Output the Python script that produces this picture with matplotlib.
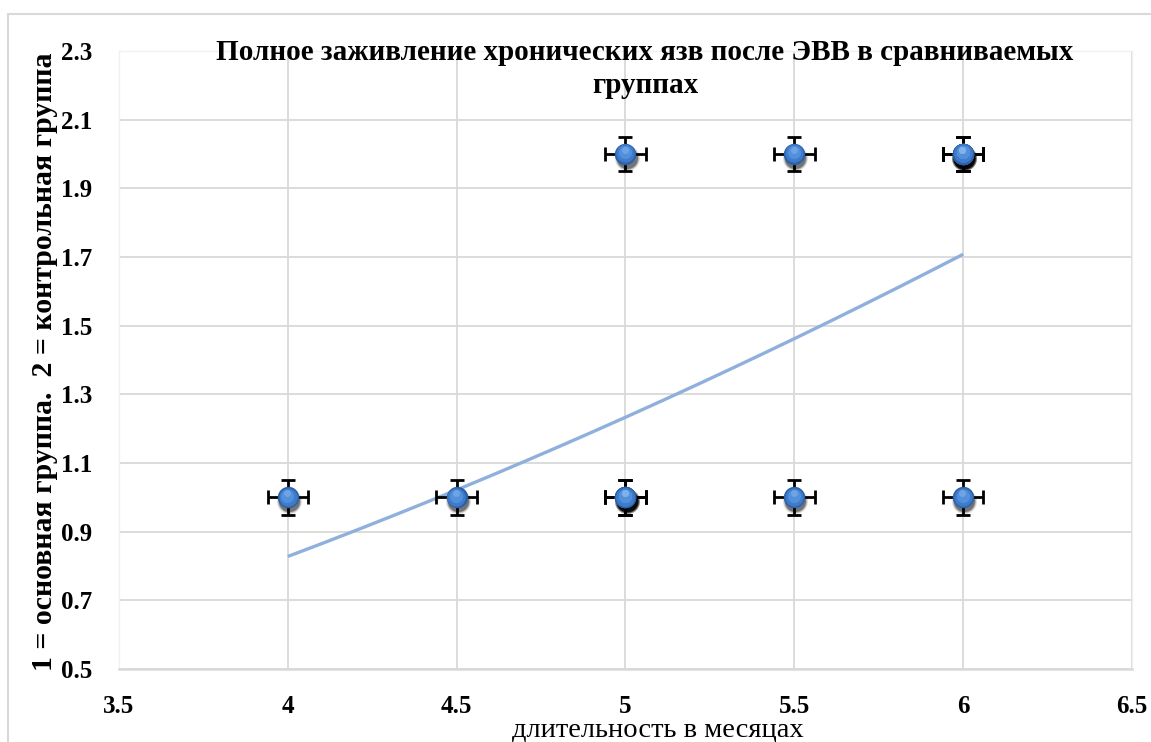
import matplotlib

matplotlib.use("Agg")
import matplotlib.pyplot as plt
import matplotlib.transforms as mtransforms
import numpy as np
from matplotlib.patches import Rectangle

# healing time per patient (months) and the group it belongs to
months = [4, 4.5, 5, 5, 5, 5, 5, 5.5, 5.5, 6, 6, 6, 6, 6, 6]
group = [1, 1, 1, 1, 1, 1, 2, 1, 2, 1, 2, 2, 2, 2, 2]
x_err = 0.06
y_err = 0.05

x_ticks = [3.5, 4, 4.5, 5, 5.5, 6, 6.5]
y_ticks = [0.5, 0.7, 0.9, 1.1, 1.3, 1.5, 1.7, 1.9, 2.1, 2.3]

title = "Полное заживление хронических язв после ЭВВ в сравниваемых\nгруппах"
x_label = "длительность в месяцах"
y_label = "1 = основная группа.  2 = контрольная группа"

SERIF = ["Liberation Serif", "DejaVu Serif"]
GRID = "#d9d9d9"

x = np.array(months, dtype=float)
y = np.array(group, dtype=float)

# power trendline y = a * x^b (least squares in log-log space)
b, ln_a = np.polyfit(np.log(x), np.log(y), 1)
trend_x = np.linspace(x.min(), x.max(), 200)
trend_y = np.exp(ln_a) * trend_x ** b

fig = plt.figure(figsize=(11.51, 7.42), dpi=100)
fig.add_artist(Rectangle((8 / 1151, -0.1), 2, 1.1 - 14 / 742, transform=fig.transFigure,
                         fill=False, edgecolor=GRID, linewidth=1.5))
ax = fig.add_axes([119 / 1151, 1 - 669 / 742, 1013 / 1151, 618 / 742])

ax.set_xlim(3.5, 6.5)
ax.set_ylim(0.5, 2.3)
ax.set_xticks(x_ticks)
ax.set_yticks(y_ticks)
ax.set_xticklabels([f"{v:g}" for v in x_ticks])
ax.set_yticklabels([f"{v:.1f}" for v in y_ticks])
for lab in ax.get_xticklabels() + ax.get_yticklabels():
    lab.set_family(SERIF)
    lab.set_fontweight("bold")
    lab.set_fontsize(18)
ax.tick_params(length=0)
ax.tick_params(axis="x", pad=19)
ax.tick_params(axis="y", pad=19)

ax.grid(True, color=GRID, linewidth=1.3)
ax.set_axisbelow(True)
for side in ("top", "right", "left"):
    ax.spines[side].set_color("#f0f0f0")
    ax.spines[side].set_linewidth(1)
ax.spines["bottom"].set_color(GRID)
ax.spines["bottom"].set_linewidth(1.8)

ax.plot(trend_x, trend_y, color="#8fb0dc", linewidth=2.4, zorder=2,
        solid_capstyle="butt")

ax.errorbar(x, y, xerr=x_err, yerr=y_err, fmt="none", ecolor="black",
            elinewidth=2.0, capsize=4.8, capthick=2.0, zorder=3)

# glossy sphere markers: blurred shadow, body, then highlight
def shifted(dx, dy):
    return ax.transData + mtransforms.ScaledTranslation(dx / 72, dy / 72, fig.dpi_scale_trans)

for ms, alpha in [(18.0, 0.12), (16.5, 0.2), (15.2, 0.35)]:
    ax.plot(x, y, "o", ms=ms, color="black", alpha=alpha, mec="none",
            transform=shifted(0.8, -2.8), zorder=4)
ax.plot(x, y, "o", ms=15.4, color="#2c60a8", mec="none", zorder=5)
ax.plot(x, y, "o", ms=13.2, color="#3e7ccb", mec="none",
        transform=shifted(-0.2, 0.5), zorder=5)
ax.plot(x, y, "o", ms=9.5, color="#5290dc", mec="none",
        transform=shifted(-0.4, 1.3), zorder=5)
ax.plot(x, y, "o", ms=5.0, color="#82b3ea", mec="none", alpha=0.6,
        transform=shifted(-0.5, 3.0), zorder=5)

fig.text(645 / 1151, 1 - 69 / 742, title, ha="center", va="center",
         family=SERIF, fontweight="bold", fontsize=21, linespacing=1.32)
fig.text(45 / 1151, 1 - 362 / 742, y_label, ha="center", va="center",
         rotation=90, family=SERIF, fontweight="bold", fontsize=21.5)
fig.text(658 / 1151, 1 - 730 / 742, x_label, ha="center", va="center",
         family=SERIF, fontsize=20.5)

fig.savefig("out.png", dpi=100)
plt.close(fig)
